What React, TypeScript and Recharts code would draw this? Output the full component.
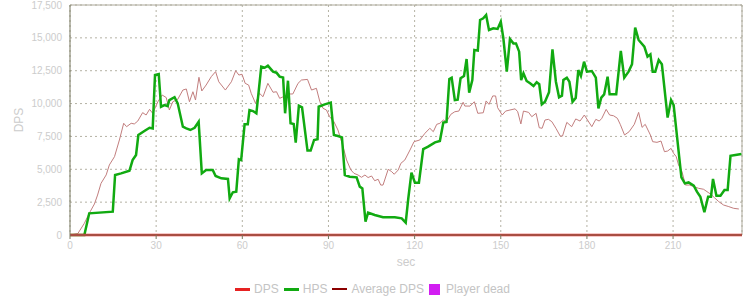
import {
  CartesianGrid,
  Legend,
  Line,
  LineChart,
  ReferenceLine,
  XAxis,
  YAxis,
} from "recharts";

// [sec, value] pairs
const hpsPoints: [number, number][] = [
  [0, 0], [5.0, 0], [6.7, 1650], [14.9, 1775], [15.7, 4565], [17.8, 4690],
  [20.7, 4890], [21.8, 5700], [23.0, 6090], [23.8, 7610], [25.9, 7910],
  [27.7, 8160], [28.8, 8110], [29.6, 12170], [30.9, 12250], [31.7, 9760],
  [32.9, 9890], [34.0, 9800], [34.6, 10270], [36.4, 10480], [37.5, 10020],
  [39.3, 8240], [40.5, 8120], [41.9, 7990], [43.4, 8160], [44.8, 8620],
  [45.9, 4690], [47.4, 4950], [49.7, 4950], [50.7, 4490], [52.7, 4310],
  [55.0, 4260], [55.6, 2790], [56.7, 3250], [57.9, 3300], [58.8, 5760],
  [59.6, 5700], [60.8, 8420], [61.9, 8420], [62.5, 9510], [63.7, 9430],
  [64.9, 9260], [66.6, 12810], [67.8, 12730], [68.9, 12880], [70.7, 12430],
  [71.9, 12350], [73.0, 12050], [74.2, 11990], [74.9, 9260], [75.9, 11740],
  [76.8, 8500], [77.9, 8450], [78.6, 7020], [79.7, 9840], [80.8, 9720],
  [82.7, 6420], [83.8, 6420], [85.0, 7230], [86.2, 7280], [86.6, 9760],
  [88.7, 9940], [90.8, 10070], [91.9, 7610], [93.3, 7530], [94.7, 7430],
  [95.7, 4565], [97.4, 4440], [99.8, 4390], [100.9, 3680], [101.8, 3550],
  [102.9, 1010], [103.8, 1700], [106.1, 1520], [109.0, 1350], [113.1, 1350],
  [115.5, 1270], [116.9, 940], [117.8, 2790], [118.9, 4740], [120.1, 3980],
  [121.5, 3980], [123.0, 6540], [124.7, 6720], [127.1, 7050], [128.8, 7150],
  [130.0, 8550], [131.1, 8600], [132.1, 11870], [132.9, 11970], [134.0, 10270],
  [135.0, 10300], [136.0, 11920], [137.2, 12100], [138.1, 13390], [139.0, 10830],
  [140.1, 11790], [140.8, 14080], [142.0, 14030], [142.8, 16360], [143.9, 16490],
  [144.9, 16740], [145.9, 15600], [147.4, 15730], [148.9, 15680], [150.0, 16230],
  [150.9, 14970], [152.1, 12430], [153.2, 14910], [154.4, 14580], [155.3, 14580],
  [156.4, 13950], [157.1, 11790], [157.9, 12300], [159.0, 11720], [160.2, 11540],
  [161.4, 11340], [162.5, 11620], [163.4, 11470], [164.3, 9940], [165.4, 10140],
  [166.8, 10860], [168.0, 14130], [169.2, 11660], [170.3, 10480], [171.3, 10600],
  [171.8, 11790], [173.0, 11970], [173.9, 11660], [175.0, 10140], [176.1, 10430],
  [177.0, 12550], [177.9, 12100], [179.0, 13190], [180.0, 12430], [181.7, 12480],
  [183.1, 11970], [184.0, 9640], [185.0, 10450], [186.0, 10700], [187.2, 12050],
  [187.9, 10700], [190.2, 10700], [191.8, 14000], [193.0, 11970], [194.5, 12430],
  [195.7, 12990], [196.8, 15780], [198.0, 14840], [200.0, 14330], [201.1, 13570],
  [202.1, 13750], [202.9, 12430], [203.8, 12430], [205.0, 13320], [206.1, 12990],
  [208.1, 8930], [209.3, 10270], [210.2, 9890], [212.9, 4390], [214.1, 3930],
  [215.4, 4000], [217.2, 3750], [218.3, 3300], [219.5, 2910], [220.9, 1730],
  [222.2, 2910], [223.2, 2910], [223.9, 4260], [225.1, 2990], [226.5, 2990],
  [227.9, 3420], [229.0, 3420], [230.0, 6030], [231.7, 6090], [233.8, 6160],
];

const avgPoints: [number, number][] = [
  [0, 0], [2.7, 100], [5.0, 890], [6.7, 1650], [8.5, 2360], [9.6, 3040],
  [10.8, 3930], [12.6, 4570], [13.7, 5330], [15.5, 5960], [17.2, 7230],
  [18.7, 8500], [19.7, 8240], [21.3, 8500], [22.4, 8450], [23.6, 8670],
  [25.3, 9310], [26.5, 9130], [27.7, 9560], [28.8, 9260], [30.6, 10140],
  [32.1, 10650], [33.5, 10460], [34.6, 9510], [35.8, 10140], [37.5, 10320],
  [39.3, 11030], [40.5, 11110], [41.6, 10140], [42.8, 10900], [43.7, 10270],
  [44.9, 12000], [45.9, 10960], [47.4, 11410], [49.2, 12050], [50.7, 12430],
  [51.8, 11660], [54.1, 11030], [56.2, 11660], [57.7, 12500], [58.8, 12170],
  [59.9, 12230], [61.0, 11540], [62.2, 11410], [63.1, 10780], [64.6, 10020],
  [66.0, 10780], [67.2, 10520], [68.9, 11540], [70.7, 10860], [71.9, 10900],
  [73.0, 10400], [76.5, 10730], [77.6, 10730], [79.4, 11540], [80.6, 11790],
  [82.7, 11840], [84.1, 11030], [85.8, 11160], [87.0, 10140], [88.1, 9640],
  [89.3, 9510], [90.4, 9000], [91.9, 8620], [93.3, 7990], [95.1, 6720],
  [96.3, 5710], [97.8, 4950], [98.9, 4690], [100.3, 4565], [101.5, 4390],
  [102.7, 4565], [103.8, 4370], [105.0, 4490], [106.1, 4130], [107.3, 4240],
  [108.2, 3800], [109.0, 3800], [110.8, 5000], [112.0, 4820], [112.9, 4620],
  [114.3, 4950], [115.2, 5450], [116.6, 5710], [118.4, 6470], [119.8, 7100],
  [121.8, 7230], [123.6, 7740], [125.3, 8120], [126.5, 7860], [127.7, 8420],
  [128.8, 8500], [130.0, 8750], [131.1, 8620], [132.6, 9180], [134.0, 9380],
  [135.4, 9430], [136.9, 10100], [137.5, 9810], [139.3, 9810], [140.8, 10140],
  [142.0, 9260], [143.9, 9300], [144.9, 10200], [145.9, 9940], [147.2, 10580],
  [148.2, 10580], [148.9, 9690], [150.5, 9130], [151.7, 9430], [153.2, 9510],
  [155.0, 9600], [155.9, 9380], [157.0, 8450], [157.9, 9430], [159.7, 9330],
  [160.8, 9000], [162.3, 9260], [163.4, 8160], [164.4, 8120], [165.4, 8750],
  [166.6, 8800], [167.8, 8620], [169.2, 8120], [170.7, 7530], [171.5, 7530],
  [173.0, 8570], [174.7, 8240], [176.1, 8830], [177.6, 8670], [179.1, 9130],
  [180.2, 8750], [181.7, 8240], [183.1, 8800], [184.3, 8670], [185.2, 8880],
  [186.7, 9560], [187.9, 9130], [189.3, 9070], [190.6, 8880], [191.6, 8420],
  [193.1, 7610], [194.7, 7860], [196.5, 8420], [198.0, 9330], [199.2, 8190],
  [200.3, 8420], [202.1, 7610], [202.9, 7100], [204.4, 7050], [205.8, 7150],
  [207.0, 6340], [208.1, 6390], [209.3, 6590], [210.2, 6210], [211.1, 5960],
  [211.9, 5330], [213.1, 4820], [214.3, 3800], [215.8, 3800], [217.2, 3680],
  [218.9, 3550], [220.6, 3480], [222.2, 3240], [223.2, 3090], [224.4, 2840],
  [225.9, 2540], [227.6, 2280], [229.4, 2160], [231.1, 2030], [232.9, 1980],
];

const dpsPoints: [number, number][] = [[0, 0], [234, 0]];

const xTicks = [0, 30, 60, 90, 120, 150, 180, 210];
const yTicks = [0, 2500, 5000, 7500, 10000, 12500, 15000, 17500];
const xMax = 234;
const yMax = 17500;

const toRows = (pts: [number, number][]) => pts.map(([t, v]) => ({ t, v }));

const FONT = '"Liberation Sans", Arial, sans-serif';

function LegendBox() {
  const text = { color: "#c4c4c4", fontSize: 12, marginRight: 5 };
  const line = (color: string, h: number) => (
    <span style={{ display: "inline-block", width: 15, height: h, background: color, marginRight: 4 }} />
  );
  return (
    <div style={{ display: "flex", justifyContent: "center", alignItems: "center", height: 30, paddingTop: 8, fontFamily: FONT, boxSizing: "border-box" }}>
      {line("#e62222", 3)}
      <span style={text}>DPS</span>
      {line("#11aa11", 3)}
      <span style={text}>HPS</span>
      {line("#8b0000", 2)}
      <span style={text}>Average DPS</span>
      <span style={{ display: "inline-block", width: 11, height: 11, background: "#d21ef2", marginRight: 6 }} />
      <span style={text}>Player dead</span>
    </div>
  );
}

export default function App() {
  return (
    <div style={{ position: "absolute", left: 0, top: 0, width: 750, height: 300, background: "#fff" }}>
      <LineChart width={750} height={300} margin={{ top: 5, right: 8, bottom: 0, left: 0 }}>
        <CartesianGrid stroke="#b4b2a4" strokeDasharray="2 3" />
        <XAxis
          dataKey="t"
          type="number"
          domain={[0, xMax]}
          ticks={xTicks}
          height={35}
          tickSize={4}
          tickMargin={3}
          stroke="#77775e"
          tick={{ fill: "#cccccc", fontSize: 10, fontFamily: FONT }}
          label={{ value: "sec", position: "insideBottom", offset: 4, fill: "#cccccc", fontSize: 12, fontFamily: FONT }}
        />
        <YAxis
          type="number"
          domain={[0, yMax]}
          ticks={yTicks}
          width={70}
          tickLine={false}
          stroke="#77775e"
          tickFormatter={(v) => Number(v).toLocaleString("en-US")}
          tick={{ fill: "#cccccc", fontSize: 10, fontFamily: FONT }}
          label={{
            content: ({ viewBox }: any) => (
              <text
                x={viewBox.x + 19}
                y={viewBox.y + viewBox.height / 2}
                transform={`rotate(-90, ${viewBox.x + 19}, ${viewBox.y + viewBox.height / 2})`}
                textAnchor="middle"
                dominantBaseline="central"
                fill="#cccccc"
                fontSize={12}
                fontFamily={FONT}
              >
                DPS
              </text>
            ),
          }}
        />
        <ReferenceLine y={yMax} stroke="#aca89a" />
        <ReferenceLine x={xMax} stroke="#aca89a" />
        <Legend verticalAlign="bottom" height={30} wrapperStyle={{ left: 0, width: 750 }} content={() => <LegendBox />} />
        <Line data={toRows(avgPoints)} dataKey="v" stroke="#c27e7e" strokeWidth={1} dot={false} isAnimationActive={false} />
        <Line data={toRows(hpsPoints)} dataKey="v" stroke="#11aa11" strokeWidth={2.5} dot={false} isAnimationActive={false} />
        <Line data={toRows(dpsPoints)} dataKey="v" stroke="#dd2626" strokeWidth={2.5} dot={false} isAnimationActive={false} />
      </LineChart>
    </div>
  );
}
